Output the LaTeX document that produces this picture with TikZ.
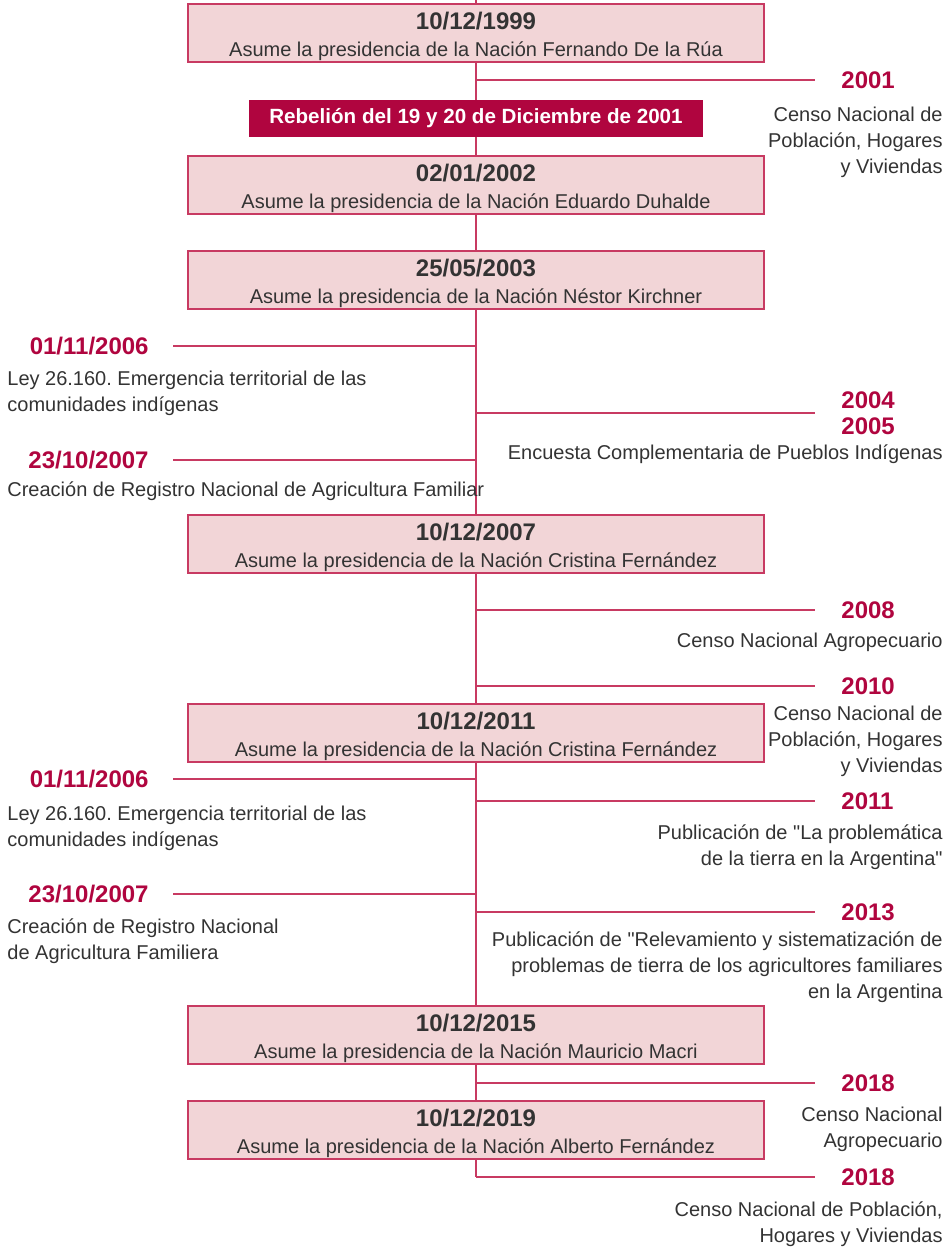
\documentclass[tikz,border=0pt]{standalone}
\usepackage{fontspec}
\setmainfont{Liberation Sans}
\usepackage{xcolor}
\usetikzlibrary{positioning}

\definecolor{unqred}{HTML}{B0053F}
\definecolor{unqline}{HTML}{C83A62}
\definecolor{unqpink}{HTML}{F2D5D7}
\definecolor{unqtext}{HTML}{333333}

\newcommand{\presfecha}[1]{{\bfseries\fontsize{12}{13}\selectfont\rule{0pt}{12.5pt}#1}}
\frenchspacing

\begin{document}
\begin{tikzpicture}[x=0.5pt, y=-0.5pt, node distance=12pt]
        \tikzstyle{pres} = [rectangle, draw=unqline, line width=0.75pt, fill=unqpink, minimum width=288pt, minimum height=29pt, inner sep=0pt, align=center, text=unqtext, font=\fontsize{10}{13.5}\selectfont]
        \tikzstyle{hito} = [rectangle, fill=unqred, text=white, minimum width=227pt, minimum height=18.5pt, inner sep=0pt, font=\bfseries\fontsize{10.3}{13}\selectfont]
        \tikzstyle{line} = [draw=unqline, line width=0.75pt]
        \tikzstyle{fecha} = [inner sep=0pt, align=center, text=unqred, font=\bfseries\fontsize{12}{13}\selectfont]
        \tikzstyle{nota} = [inner sep=0pt, text=unqtext, font=\fontsize{10}{13}\selectfont, execute at begin node=\strut]
        \tikzstyle{notaR} = [nota, anchor=north east, align=right]
        \tikzstyle{notaL} = [nota, anchor=north west, align=left]

        \useasboundingbox (0,0) rectangle (952,1249);

        % eje del tiempo
        \coordinate (top) at (476,0);
        \coordinate (bot) at (476,1177);
        \path [line] (top) -- (bot);

        % ramas derecha
        \coordinate (s2001) at (476,80);   \coordinate (r2001) at (815,80);
        \coordinate (s2004) at (476,413);  \coordinate (r2004) at (815,413);
        \coordinate (s2008) at (476,610);  \coordinate (r2008) at (815,610);
        \coordinate (s2010) at (476,686);  \coordinate (r2010) at (815,686);
        \coordinate (s2011) at (476,801);  \coordinate (r2011) at (815,801);
        \coordinate (s2013) at (476,912);  \coordinate (r2013) at (815,912);
        \coordinate (s2018a) at (476,1083); \coordinate (r2018a) at (815,1083);
        \coordinate (r2018b) at (815,1177);
        \foreach \y in {2001, 2004, 2008, 2010, 2011, 2013, 2018a}
            \path [line] (s\y) -- (r\y);
        \path [line] (bot) -- (r2018b);

        % ramas izquierda
        \coordinate (s2006a) at (476,346); \coordinate (l2006a) at (173,346);
        \coordinate (s2007a) at (476,460); \coordinate (l2007a) at (173,460);
        \coordinate (s2006b) at (476,779); \coordinate (l2006b) at (173,779);
        \coordinate (s2007b) at (476,894); \coordinate (l2007b) at (173,894);
        \foreach \y in {2006a, 2007a, 2006b, 2007b}
            \path [line] (s\y) -- (l\y);

        % presidencias
        \node [pres] (p1999) at (476,33) {\presfecha{10/12/1999}\\Asume la presidencia de la Nación Fernando De la Rúa};
        \node [hito] (rebelion) at (476,118) {Rebelión del 19 y 20 de Diciembre de 2001};
        \node [pres] (p2002) at (476,185) {\presfecha{02/01/2002}\\Asume la presidencia de la Nación Eduardo Duhalde};
        \node [pres] (p2003) at (476,280) {\presfecha{25/05/2003}\\Asume la presidencia de la Nación Néstor Kirchner};
        \node [pres] (p2007) at (476,544) {\presfecha{10/12/2007}\\Asume la presidencia de la Nación Cristina Fernández};
        \node [pres] (p2011) at (476,733) {\presfecha{10/12/2011}\\Asume la presidencia de la Nación Cristina Fernández};
        \node [pres] (p2015) at (476,1035) {\presfecha{10/12/2015}\\Asume la presidencia de la Nación Mauricio Macri};
        \node [pres] (p2019) at (476,1130) {\presfecha{10/12/2019}\\Asume la presidencia de la Nación Alberto Fernández};

        % fechas derecha
        \node [fecha, right=13pt of r2001] (f2001) {2001};
        \node [fecha, right=13pt of r2004] (f2004) {2004\\2005};
        \node [fecha, right=13pt of r2008] (f2008) {2008};
        \node [fecha, right=13pt of r2010] (f2010) {2010};
        \node [fecha, right=13pt of r2011] (f2011) {2011};
        \node [fecha, right=13pt of r2013] (f2013) {2013};
        \node [fecha, right=13pt of r2018a] (f2018a) {2018};
        \node [fecha, right=13pt of r2018b] (f2018b) {2018};

        % fechas izquierda
        \node [fecha, left=of l2006a] (f2006a) {01/11/2006};
        \node [fecha, left=of l2007a] (f2007a) {23/10/2007};
        \node [fecha, left=of l2006b] (f2006b) {01/11/2006};
        \node [fecha, left=of l2007b] (f2007b) {23/10/2007};

        % notas derecha
        \node [notaR] (n2001) at (943,107) {Censo Nacional de\\Población, Hogares\\y Viviendas};
        \node [notaR] (n2004) at (943,441) {Encuesta Complementaria de Pueblos Indígenas};
        \node [notaR] (n2008) at (943,629) {Censo Nacional Agropecuario};
        \node [notaR] (n2010) at (943,706) {Censo Nacional de\\Población, Hogares\\y Viviendas};
        \node [notaR] (n2011) at (943,824) {Publicación de \textquotedbl La problemática\\de la tierra en la Argentina\textquotedbl};
        \node [notaR] (n2013) at (943,931) {Publicación de \textquotedbl Relevamiento y sistematización de\\problemas de tierra de los agricultores familiares\\en la Argentina};
        \node [notaR] (n2018a) at (943,1107) {Censo Nacional\\Agropecuario};
        \node [notaR] (n2018b) at (943,1201) {Censo Nacional de Población,\\Hogares y Viviendas};

        % notas izquierda
        \node [notaL] (n2006a) at (7,371) {Ley 26.160. Emergencia territorial de las\\comunidades indígenas};
        \node [notaL] (n2007a) at (7,478) {Creación de Registro Nacional de Agricultura Familiar};
        \node [notaL] (n2006b) at (7,806) {Ley 26.160. Emergencia territorial de las\\comunidades indígenas};
        \node [notaL] (n2007b) at (7,918) {Creación de Registro Nacional\\de Agricultura Familiera};
    \end{tikzpicture}
\end{document}
